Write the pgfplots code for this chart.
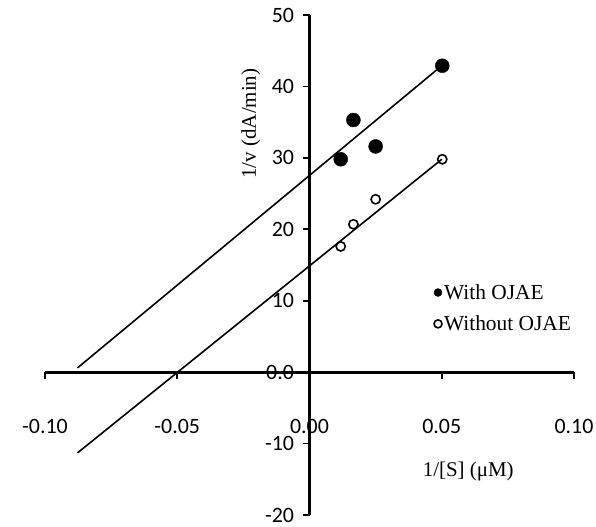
\documentclass[border=0pt]{standalone}
\usepackage{pgfplots}
\pgfplotsset{compat=1.18}
\usepackage{fontspec}
\setmainfont{Liberation Serif}
\newfontfamily\calibri{Carlito}

\begin{document}
\begin{tikzpicture}
\path[use as bounding box] (0,0) rectangle (596bp,527bp);
\begin{axis}[
  at={(45bp,12bp)}, anchor=south west,
  scale only axis, width=529bp, height=500bp,
  xmin=-0.1, xmax=0.1, ymin=-20, ymax=50,
  axis lines=middle,
  axis line style={line width=2.8bp, -},
  every inner x axis line/.append style={-},
  every inner y axis line/.append style={-},
  hide obscured x ticks=false, hide obscured y ticks=false,
  xtick={-0.1,-0.05,0,0.05,0.1},
  xticklabels={-0.10,-0.05,0.00,0.05,0.10},
  ytick={-20,-10,0,10,20,30,40,50},
  yticklabels={-20,-10,0.0,10,20,30,40,50},
  tick align=outside, major tick length=7bp,
  tick style={line width=1.8bp, black},
  /pgf/number format/assume math mode=true,
  ticklabel style={font=\calibri\fontsize{22}{26}\selectfont},
  xticklabel style={anchor=center, yshift=-47bp},
  yticklabel style={xshift=-5bp},
  clip=false,
  legend image code/.code={\draw[mark repeat=2,mark phase=2,#1,mark size=4bp] plot coordinates {(0cm,0cm) (0.15cm,0cm) (0.4cm,0cm)};},
  legend style={at={(axis cs:0.047,12.6)}, anchor=north west, draw=none, fill=none,
    font=\fontsize{21.5}{25}\selectfont, row sep=11bp, inner sep=0pt},
  legend cell align=left,
]

% trend lines
\addplot[black, line width=1.6bp, forget plot] coordinates {(-0.0877,0.6) (0.05,42.9)};
\addplot[black, line width=1.6bp, forget plot] coordinates {(-0.0877,-11.3) (0.05,29.8)};

\addplot[only marks, mark=*, mark size=7bp, black] coordinates {
  (0.0118,29.8) (0.0166,35.3) (0.0250,31.6) (0.0502,42.9)
};
\addlegendentry{With OJAE}

\addplot[only marks, mark=o, mark size=4.6bp, black, mark options={line width=1.6bp}] coordinates {
  (0.0118,17.6) (0.0166,20.7) (0.0250,24.2) (0.0502,29.8)
};
\addlegendentry{Without OJAE}

\node[font=\fontsize{21}{24}\selectfont] at (axis cs:0.060,-13.9) {1/[S] (μM)};
\node[font=\fontsize{21}{24}\selectfont, rotate=90] at (axis cs:-0.0222,34.8) {1/v (dA/min)};
\end{axis}
\end{tikzpicture}
\end{document}
